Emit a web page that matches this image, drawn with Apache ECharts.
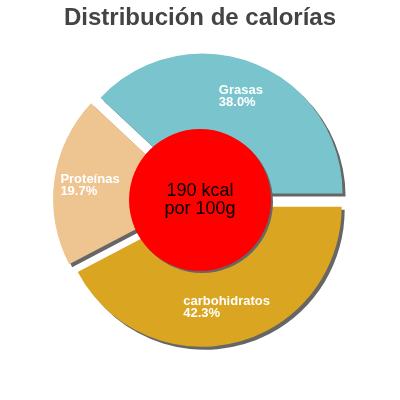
<!DOCTYPE html>
<html>
<head>
<meta charset="utf-8">
<script src="https://cdn.jsdelivr.net/npm/echarts@6/dist/echarts.min.js"></script>
<style>html,body{margin:0;padding:0;background:#fff}#c{width:400px;height:400px}</style>
</head>
<body>
<div id="c"></div>
<script>
var titleText = 'Distribución de calorías';
var categories = ['Grasas', 'Proteínas', 'carbohidratos'];
var values = [38.0, 19.7, 42.3];
var colors = ['#7AC5CD', '#EEC591', '#DAA520'];
var centerLines = ['190 kcal', 'por 100g'];

var chart = echarts.init(document.getElementById('c'), null, {renderer: 'canvas'});
var data = categories.map(function (c, i) {
  return {name: c, value: values[i], selected: true, itemStyle: {color: colors[i]}};
});
chart.setOption({
  animation: false,
  title: {
    text: titleText, left: 'center', top: 1,
    textStyle: {fontFamily: 'Liberation Sans, Arial, sans-serif', fontSize: 24, fontWeight: 'bold', color: '#444444'}
  },
  series: [{
    type: 'pie',
    center: ['50%', '50%'],
    radius: [62, 140],
    startAngle: 0,
    clockwise: false,
    selectedMode: 'multiple',
    selectedOffset: 7,
    silent: true,
    avoidLabelOverlap: false,
    itemStyle: {shadowColor: '#666666', shadowBlur: 0, shadowOffsetX: 3, shadowOffsetY: 3},
    label: {
      position: 'inside',
      formatter: function (p) { return '{a|' + p.name + '}\n{a|' + p.value.toFixed(1) + '%}'; },
      rich: {a: {align: 'left', color: '#ffffff', fontSize: 13, fontWeight: 'bold', lineHeight: 12, fontFamily: 'Liberation Sans, Arial, sans-serif'}}
    },
    labelLine: {show: false},
    emphasis: {disabled: true},
    select: {itemStyle: {}},
    data: data
  }, {
    type: 'pie',
    center: ['50%', '50%'],
    radius: [0, 71],
    silent: true,
    itemStyle: {color: '#FF0000', shadowColor: '#666666', shadowBlur: 0, shadowOffsetX: 2, shadowOffsetY: 2},
    label: {
      position: 'center',
      formatter: centerLines.join('\n'),
      color: '#000000', fontSize: 18, lineHeight: 18,
      fontFamily: 'Liberation Sans, Arial, sans-serif'
    },
    labelLine: {show: false},
    emphasis: {disabled: true},
    data: [{name: 'kcal', value: 1}]
  }]
});
</script>
</body>
</html>
